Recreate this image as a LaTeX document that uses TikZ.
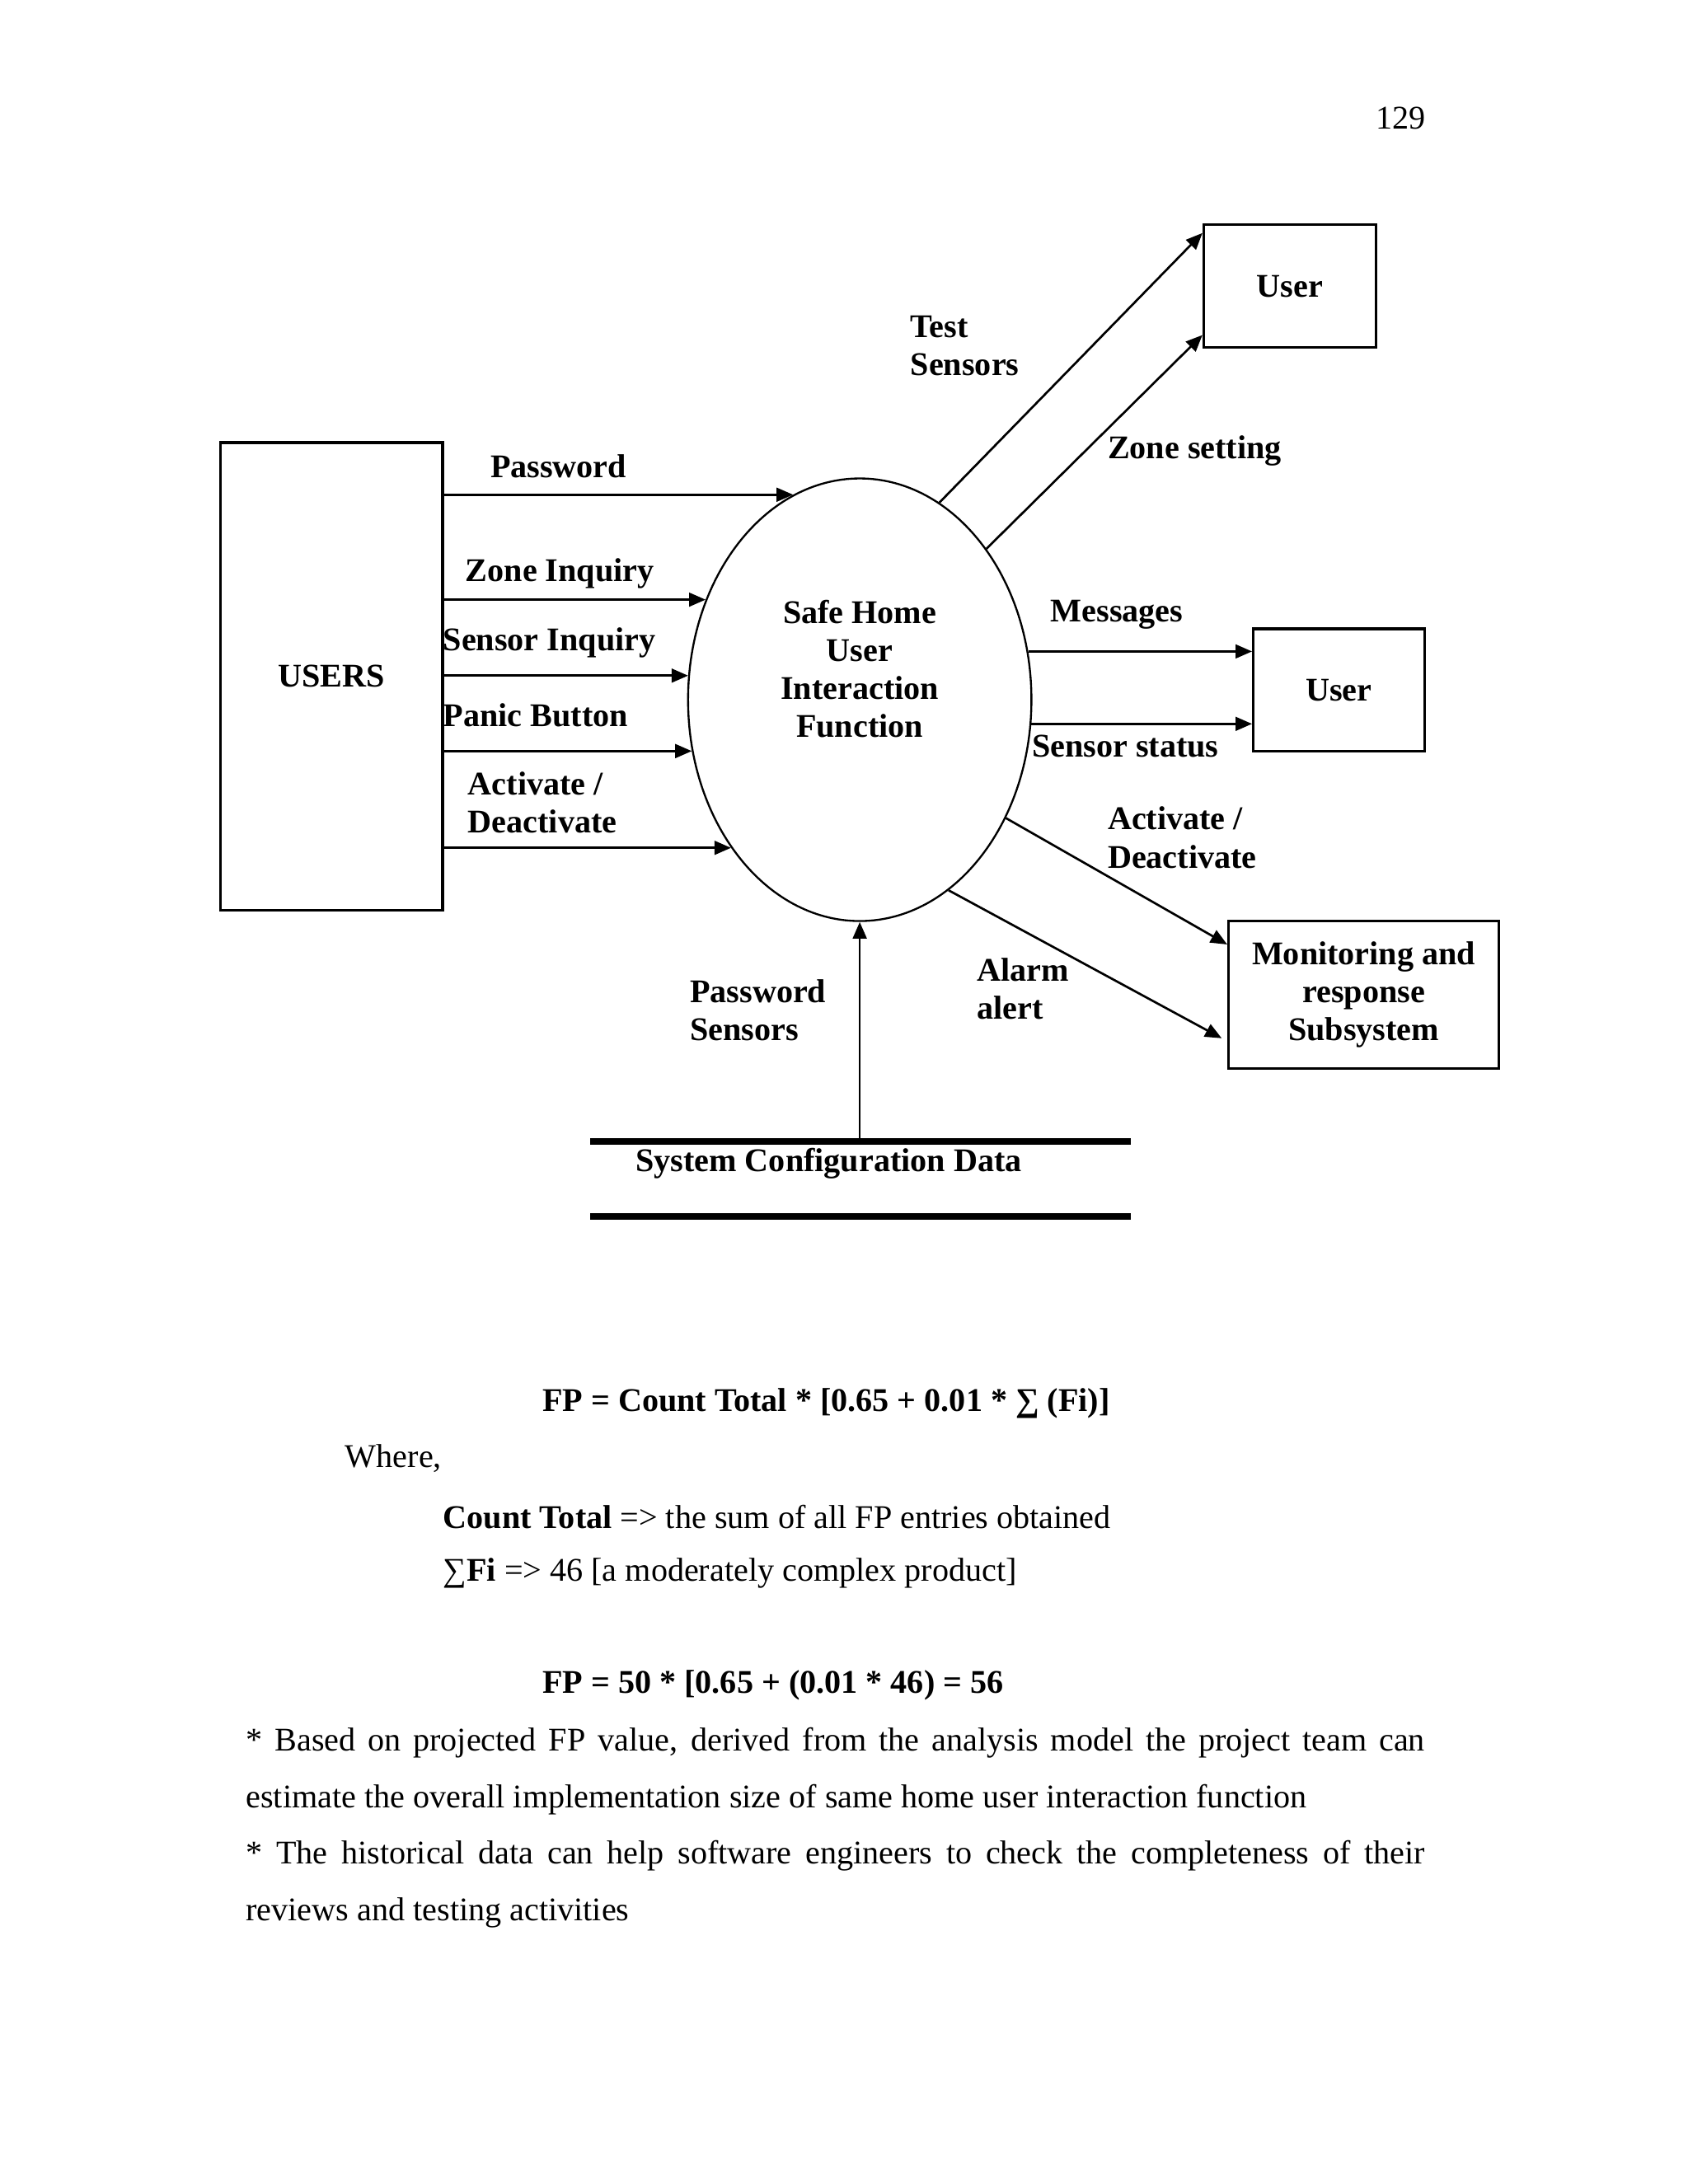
\documentclass[tikz,border=0pt]{standalone}
\usepackage{fontspec}
\setmainfont{Liberation Serif}
\usetikzlibrary{shapes.geometric,arrows.meta}

\begin{document}
\begin{tikzpicture}[x=0.5bp,y=-0.5bp,auto=center,
		every node/.style={font=\fontsize{12bp}{13.8bp}\selectfont\bfseries,inner sep=0pt},
		entity/.style={draw,line width=1bp,rectangle},
		process/.style={draw,line width=0.7bp,ellipse,minimum width=124.5bp,minimum height=160.5bp},
		flow/.style={line width=0.8bp,-{Triangle[length=6bp,width=5bp]}},
		store/.style={line width=2.4bp},
		body/.style={font=\fontsize{12bp}{20.5bp}\selectfont,anchor=west}]
			\path[fill=white,use as bounding box] (0,0) rectangle (1224,1584);

			\node[font=\fontsize{12bp}{14bp}\selectfont] (page) at (1016,86) {129};

			% entities
			\node[entity,minimum width=80.5bp,minimum height=169.5bp] (users) at (240.5,490.5) {USERS};
			\node[entity,minimum width=62.5bp,minimum height=44.5bp] (user1) at (935.5,207.5) {User};
			\node[entity,minimum width=62bp,minimum height=44.5bp] (user2) at (971,500.5) {User};
			\node[entity,minimum width=98bp,minimum height=53.5bp,align=center] (monitor) at (989,721.5) {Monitoring and\\response\\Subsystem};

			% process
			\node[process] (safe) at (623.5,507.5) {};
			\node[align=center] (safetext) at (623.5,485) {Safe Home\\User\\Interaction\\Function};

			% data store
			\coordinate (storetl) at (428,828);
			\coordinate (storetr) at (820,828);
			\coordinate (storebl) at (428,882);
			\coordinate (storebr) at (820,882);
			\draw[store] (storetl) -- (storetr);
			\draw[store] (storebl) -- (storebr);
			\node (store) at (601,844) {System Configuration Data};


			% inputs
			\draw[flow] (safe.108 -| users.east) -- (safe.108);
			\draw[flow] (safe.147 -| users.east) -- (safe.147);
			\draw[flow] (safe.172 -| users.east) -- (safe.172);
			\draw[flow] (safe.197 -| users.east) -- (safe.197);
			\draw[flow] (safe.229 -| users.east) -- (safe.229);
			\draw[flow] (safe.south |- storetl) -- (safe.south);

			% outputs
			\draw[flow] (safe.68) -- ([yshift=-3.5bp]user1.north west);
			\draw[flow] (safe.50) -- ([yshift=5bp]user1.south west);
			\draw[flow] (safe.16) -- (safe.16 -| user2.west);
			\draw[flow] (safe.352) -- (safe.352 -| user2.west);
			\draw[flow] (safe.321) -- ([yshift=-9bp]monitor.north west);
			\draw[flow] (safe.295) -- ([xshift=-2bp,yshift=11.5bp]monitor.south west);


			\node (pwlbl) at (405,338) {Password};
			\node (zilbl) at (406,416) {Zone Inquiry};
			\node[anchor=west] (silbl) at (321,466) {Sensor Inquiry};
			\node[anchor=west] (pblbl) at (321,519) {Panic Button};
			\node[anchor=west,align=left] (adlbl) at (339,582) {Activate /\\Deactivate};
			\node[anchor=west,align=left] (tslbl) at (660,251) {Test\\Sensors};
			\node[anchor=west] (zslbl) at (803,327) {Zone setting};
			\node (msglbl) at (810,446) {Messages};
			\node[anchor=west] (sslbl) at (748,541) {Sensor status};
			\node[anchor=west,align=left] (adrlbl) at (803,607.5) {Activate /\\Deactivate};
			\node[anchor=west,align=left] (aalbl) at (708,717) {Alarm\\alert};
			\node[anchor=west,align=left] (pslbl) at (500,732.5) {Password\\Sensors};

			% text below
			\node[body] (fpone) at (393,1018) {\bfseries FP = Count Total * [0.65 + 0.01 * ∑ (Fi)]};
			\node[body] (where) at (250,1058) {Where,};
			\node[body] (count) at (321,1100) {\textbf{Count Total} => the sum of all FP entries obtained};
			\node[body] (sumfi) at (321,1141) {∑\textbf{Fi} => 46 [a moderately complex product]};
			\node[body] (fptwo) at (393,1222) {\bfseries FP = 50 * [0.65 + (0.01 * 46) = 56};
			\node[body,align=left] (notes) at (178,1325.5) {\makebox[427.5bp][s]{* Based on projected FP value, derived from the analysis model the project team can}\\estimate the overall implementation size of same home user interaction function\\\makebox[427.5bp][s]{* The historical data can help software engineers to check the completeness of their}\\reviews and testing activities};
		\end{tikzpicture}
\end{document}
